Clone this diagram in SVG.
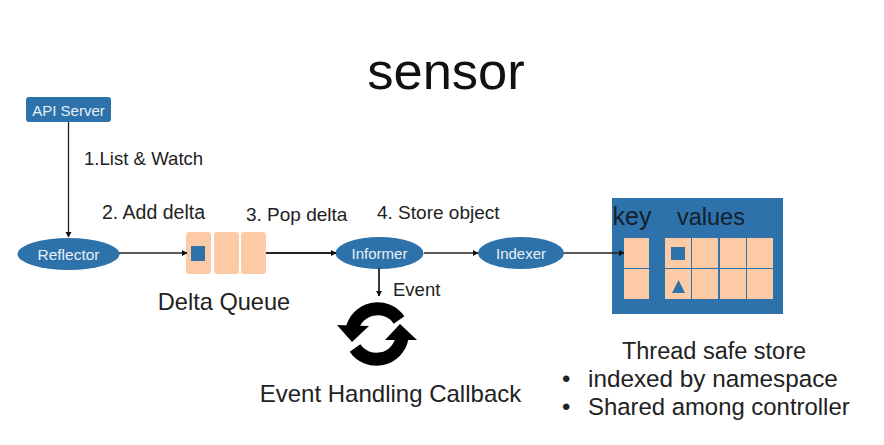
<svg xmlns="http://www.w3.org/2000/svg" width="884" height="445" viewBox="0 0 884 445">
<style>
text{font-family:"Liberation Sans",Arial,sans-serif;fill:#222}
.n{fill:#2d72aa}
.w{fill:#e8f0f6;font-size:15px;text-anchor:middle}
.l{font-size:19px}
.b{font-size:24px}
.c{fill:#fccba6}
.e{stroke:#222;fill:none;stroke-width:1.3}
.s{fill:none;stroke:#000;stroke-width:13}
</style>
<defs><marker id="a" markerWidth="7" markerHeight="7" refX="5" refY="3" orient="auto" markerUnits="userSpaceOnUse"><path d="M0 0L5.500 3L0 6Z" fill="#111"/></marker></defs>
<rect width="884" height="445" fill="#fff"/>
<text id="title" x="446" y="89" font-size="52.500" text-anchor="middle" style="fill:#111">sensor</text>
<g id="api-server"><rect class="n" x="26" y="97" width="85" height="25" rx="3"/><text class="w" x="68.500" y="115.500">API Server</text></g>
<g id="reflector"><ellipse class="n" cx="68.500" cy="254" rx="51" ry="16"/><text class="w" x="68.500" y="259.500" style="font-size:15.500px">Reflector</text></g>
<g id="delta-queue">
<rect class="c" x="186" y="232" width="25" height="42" rx="3"/><rect class="c" x="214" y="232" width="25" height="42" rx="3"/><rect class="c" x="241" y="232" width="25" height="42" rx="3"/>
<rect class="n" x="191" y="246" width="14" height="15"/>
<text class="b" x="224" y="310" text-anchor="middle" style="font-size:23.600px">Delta Queue</text>
</g>
<g id="informer"><ellipse class="n" cx="379.500" cy="253" rx="44" ry="16"/><text class="w" x="379.500" y="259">Informer</text></g>
<g id="indexer"><ellipse class="n" cx="521" cy="253" rx="43" ry="16"/><text class="w" x="521" y="259">Indexer</text></g>
<g id="callback">
<path class="s" d="M352 330A26 26 0 0 1 399 320"/>
<path class="s" d="M402 338A26 26 0 0 1 355 348"/>
<path fill="#000" d="M337 325L369 326L352 342Z"/>
<path fill="#000" d="M417 340L385 340L400 324Z"/>
<text class="b" x="390.500" y="402" text-anchor="middle">Event Handling Callback</text>
</g>
<g id="store">
<rect class="n" x="612" y="198" width="171" height="116"/>
<text x="612.500" y="225" font-size="25" style="fill:#14202c">key</text>
<text x="677" y="225" font-size="23.500" style="fill:#14202c">values</text>
<g class="c">
<rect x="624" y="238" width="25" height="30"/><rect x="624" y="269" width="25" height="30"/>
<rect x="665" y="238" width="26" height="30"/><rect x="692" y="238" width="26" height="30"/><rect x="720" y="238" width="26" height="30"/><rect x="747" y="238" width="26" height="30"/>
<rect x="665" y="269" width="26" height="30"/><rect x="692" y="269" width="26" height="30"/><rect x="720" y="269" width="26" height="30"/><rect x="747" y="269" width="26" height="30"/>
</g>
<rect class="n" x="671" y="247" width="14" height="13"/>
<path class="n" d="M672 293L678.500 280L685 293Z"/>
</g>
<g id="connectors">
<path class="e" d="M68.500 122V237" marker-end="url(#a)"/>
<path class="e" d="M119 253H187" marker-end="url(#a)"/>
<path class="e" d="M266 253H336" style="stroke-width:2" marker-end="url(#a)"/>
<path class="e" d="M379 268V296" style="stroke-width:1.800" marker-end="url(#a)"/>
<path class="e" d="M424 253H478" marker-end="url(#a)"/>
<path class="e" d="M564 253H624" marker-end="url(#a)"/>
</g>
<g id="labels">
<text class="l" x="84" y="164.500" style="font-size:18.600px">1.List &amp; Watch</text>
<text class="l" x="102" y="218.500" style="font-size:19.500px">2. Add delta</text>
<text class="l" x="246" y="220.500">3. Pop delta</text>
<text class="l" x="377" y="218.500">4. Store object</text>
<text class="l" x="393" y="296" style="font-size:18.500px">Event</text>
<text class="b" x="714" y="359" text-anchor="middle" style="font-size:23.500px">Thread safe store</text>
<text class="b" x="562" y="387">•</text>
<text class="b" x="588" y="387" style="font-size:24.300px">indexed by namespace</text>
<text class="b" x="562" y="415">•</text>
<text class="b" x="588" y="415" style="font-size:23.900px">Shared among controller</text>
</g>
</svg>
